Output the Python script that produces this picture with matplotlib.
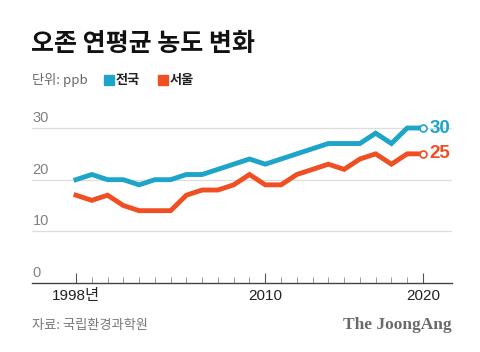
import matplotlib.pyplot as plt
from matplotlib.patches import Rectangle

plt.rcParams['font.family'] = ['Noto Sans CJK KR', 'DejaVu Sans']

years = list(range(1998, 2021))
national = [20, 21, 20, 20, 19, 20, 20, 21, 21, 22, 23, 24, 23, 24, 25, 26, 27, 27, 27, 29, 27, 30, 30]
seoul = [17, 16, 17, 15, 14, 14, 14, 17, 18, 18, 19, 21, 19, 19, 21, 22, 23, 22, 24, 25, 23, 25, 25]
yticks = [0, 10, 20, 30]
xticks = [1998, 2010, 2020]
xtick_labels = ["1998년", "2010", "2020"]

blue = "#1ea4c9"
orange = "#f04f24"

fig = plt.figure(figsize=(4.8, 3.52), dpi=100)
ax = fig.add_axes([32 / 480, 1 - 283 / 352, 420 / 480, 165 / 352])

ax.set_xlim(1995.21, 2021.84)
ax.set_ylim(0, 31.94)

for y in yticks[1:]:
    ax.axhline(y, color="#dddddd", lw=0.9, zorder=1)
    ax.text(1995.25, y + 0.6, str(y), color="#808080", fontsize=10.5, va="bottom", ha="left",
            family=["Liberation Sans", "DejaVu Sans"])
ax.text(1995.25, 0.6, "0", color="#808080", fontsize=10.5, va="bottom", ha="left",
        family=["Liberation Sans", "DejaVu Sans"])

ax.plot(years, national, color=blue, lw=3.5, solid_joinstyle="miter", zorder=3)
ax.plot(years, seoul, color=orange, lw=3.5, solid_joinstyle="miter", zorder=3)
ax.plot(years[-1], national[-1], "o", ms=5, mfc="white", mec=blue, mew=1.2, zorder=4)
ax.plot(years[-1], seoul[-1], "o", ms=5, mfc="white", mec=orange, mew=1.2, zorder=4)
ax.text(years[-1] + 0.4, national[-1], str(national[-1]), color=blue, fontsize=13.5,
        fontweight="bold", va="center", ha="left", family=["Liberation Sans", "DejaVu Sans"])
ax.text(years[-1] + 0.4, seoul[-1], str(seoul[-1]), color=orange, fontsize=13.5,
        fontweight="bold", va="center", ha="left", family=["Liberation Sans", "DejaVu Sans"])

for s in ["top", "right", "left"]:
    ax.spines[s].set_visible(False)
ax.spines["bottom"].set_color("#444444")
ax.spines["bottom"].set_linewidth(1.0)
ax.set_yticks([])
ax.set_xticks(xticks)
ax.set_xticklabels(xtick_labels, fontsize=11, color="#222222")
ax.set_xticks(years, minor=True)
ax.tick_params(axis="x", which="major", direction="in", length=7, width=0.8, color="#555555", pad=4)
ax.tick_params(axis="x", which="minor", direction="in", length=4, width=0.6, color="#888888")
for lab in ax.get_xticklabels():
    lab.set_family(["Liberation Sans", "Noto Sans CJK KR"])

fig.text(31 / 480, 1 - 44 / 352, "오존 연평균 농도 변화", fontsize=18, fontweight="black",
         color="#111111", va="center", ha="left")
fig.text(32 / 480, 1 - 80 / 352, "단위: ppb", fontsize=9.5, color="#666666", va="center", ha="left")

fig.patches.append(Rectangle((104 / 480, 1 - 85 / 352), 10 / 480, 10 / 352,
                             transform=fig.transFigure, color=blue, figure=fig))
fig.text(116 / 480, 1 - 80 / 352, "전국", fontsize=9.5, fontweight="bold", color="#222222",
         va="center", ha="left")
fig.patches.append(Rectangle((158 / 480, 1 - 85 / 352), 10 / 480, 10 / 352,
                             transform=fig.transFigure, color=orange, figure=fig))
fig.text(170 / 480, 1 - 80 / 352, "서울", fontsize=9.5, fontweight="bold", color="#222222",
         va="center", ha="left")

fig.text(32 / 480, 1 - 325 / 352, "자료: 국립환경과학원", fontsize=9.5, color="#777777",
         va="center", ha="left")
fig.text(452 / 480, 1 - 325 / 352, "The JoongAng", fontsize=12.5, fontweight="bold",
         color="#6a6a6a", va="center", ha="right", family=["Liberation Serif", "DejaVu Serif"])

fig.savefig("out.png", dpi=100)
